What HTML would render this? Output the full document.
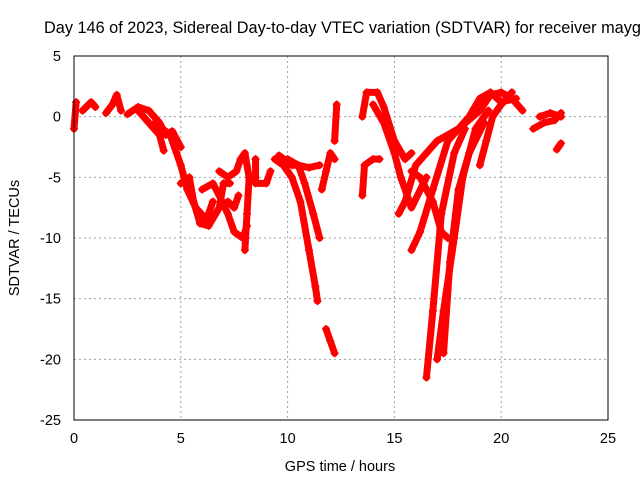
<!DOCTYPE html>
<html><head><meta charset="utf-8"><style>
body{margin:0;background:#fff}
svg{display:block;font-family:"Liberation Sans",sans-serif}
</style></head><body>
<svg id="chart" width="640" height="480" viewBox="0 0 640 480">
<rect width="640" height="480" fill="#fff"/>
<g id="grid"></g>
<g id="marks"></g>
<rect x="74" y="56" width="534" height="364" fill="none" stroke="#000" stroke-width="1"/>
<g id="ticks"></g>
<text x="44" y="33" font-size="16.3">Day 146 of 2023, Sidereal Day-to-day VTEC variation (SDTVAR) for receiver mayg</text>
<text x="340" y="471" font-size="14.5" text-anchor="middle">GPS time / hours</text>
<text transform="translate(19,238) rotate(-90)" font-size="14.5" text-anchor="middle">SDTVAR / TECUs</text>
</svg>
<script>
const xTicks=[0,5,10,15,20,25];
const yTicks=[5,0,-5,-10,-15,-20,-25];
const tracks=[
[[0,-1],[0.1,1.2]],
[[0.4,0.5],[0.8,1.2],[1.0,0.8]],
[[1.5,0.3],[1.8,1],[2.0,1.8],[2.2,0.5]],
[[2.5,0.2],[3,0.8],[3.5,0.5],[4,-0.5],[4.3,-1.5],[4.6,-1.2],[5.0,-2.5]],
[[3.0,0.5],[3.5,-0.5],[4.0,-1.5],[4.2,-2.8]],
[[3.8,-0.5],[4.5,-1.5],[5,-4],[5.3,-6],[5.7,-7.5],[6.2,-8.5],[6.5,-7]],
[[5,-5.5],[5.4,-5],[5.6,-7],[5.9,-8.8],[6.3,-9],[6.8,-7.5],[7,-5.5],[7.3,-5.5]],
[[6,-6],[6.5,-5.5],[6.8,-6.5],[7.2,-8],[7.5,-9.5],[7.9,-10],[8.1,-9]],
[[6.8,-4.5],[7.2,-5],[7.6,-4.5],[7.8,-3.5],[8.0,-3],[8.2,-5],[8.1,-8],[8.0,-11]],
[[7.2,-7],[7.5,-7.5],[7.7,-6.5]],
[[8.5,-3.5],[8.5,-5.5],[9,-5.5],[9.2,-4.5]],
[[9.4,-3.5],[9.8,-4],[10.2,-5],[10.6,-7],[11,-11],[11.3,-14],[11.4,-15.2]],
[[9.6,-3.2],[10.2,-4],[10.5,-4],[10.8,-5.5],[11.2,-8],[11.5,-10]],
[[10,-3.5],[10.5,-4],[11,-4.2],[11.5,-4]],
[[11.8,-17.5],[12.0,-18.5],[12.2,-19.5]],
[[11.6,-6],[11.8,-4.5],[12,-3],[12.2,-3.5]],
[[12.2,-2],[12.3,1]],
[[13.5,-6.5],[13.6,-4],[14,-3.5],[14.3,-3.5]],
[[13.5,0],[13.7,2],[14.2,2],[14.5,0.8],[15,-2],[15.5,-3.5],[15.8,-3]],
[[14,1],[14.5,-0.5],[15,-3],[15.3,-5],[15.8,-7.5],[16.5,-5]],
[[15.2,-8],[15.5,-7],[16,-4],[17,-2],[18,-1],[19,0.5],[19.5,1.8],[20,2],[20.5,1.5],[21,0.5]],
[[15.8,-11],[16.2,-9.5],[16.8,-6],[17.5,-2],[18.5,0],[19,1.5],[19.5,2],[20,1.2],[20.7,1.5]],
[[16.5,-21.5],[16.8,-16],[17.2,-8],[17.8,-3],[18.3,-1]],
[[17,-20],[17.3,-16],[17.8,-10],[18.2,-5],[18.8,-1],[19.4,0.5]],
[[15.8,-4.5],[16.2,-5],[16.8,-7],[17.2,-9.5],[17.5,-10]],
[[17.3,-19.5],[17.6,-12],[18,-6],[18.5,-3],[19.2,-0.5]],
[[19,-4],[19.3,-2],[19.6,0],[20,1],[20.5,2]],
[[21.5,-1],[22,-0.5],[22.5,-0.3],[22.8,0.3]],
[[21.8,0],[22.3,0.3],[22.8,0]],
[[22.6,-2.7],[22.8,-2.2]]
];
const NS="http://www.w3.org/2000/svg";
const X=t=>74+t*(534/25);
const Y=v=>56+(5-v)*(364/30);
const grid=document.getElementById('grid'),ticks=document.getElementById('ticks'),marks=document.getElementById('marks');
function mk(tag,attrs,parent){const e=document.createElementNS(NS,tag);for(const k in attrs)e.setAttribute(k,attrs[k]);parent.appendChild(e);return e;}
xTicks.forEach(t=>{
  if(t>0&&t<25){const g=mk('line',{x1:X(t),x2:X(t),y1:56,y2:420,stroke:'#a0a0a0','stroke-dasharray':'2,3'},grid);
  
  }
  const l=mk('text',{x:X(t),y:443,'font-size':14.5,'text-anchor':'middle'},ticks);l.textContent=t;
  
  
});
yTicks.forEach(v=>{
  if(v<5&&v>-25){const g=mk('line',{x1:74,x2:608,y1:Y(v),y2:Y(v),stroke:'#a0a0a0','stroke-dasharray':'2,3'},grid);
  
  }
  const l=mk('text',{x:61,y:Y(v)+5,'font-size':14.5,'text-anchor':'end'},ticks);l.textContent=v;
  
  
});
tracks.forEach(tr=>{
  const p=mk('polyline',{points:tr.map(d=>X(d[0])+','+Y(d[1])).join(' '),fill:'none',stroke:'#ff0000','stroke-width':7,'stroke-linejoin':'round','stroke-linecap':'round'},marks);
  
  
  tr.forEach(d=>{const x=X(d[0]),y=Y(d[1]);
    const m=mk('path',{d:`M${x-4},${y}H${x+4}M${x},${y-4}V${y+4}`,stroke:'#ff0000','stroke-width':1.5},marks);
    
    
  });
});
</script>
</body></html>
